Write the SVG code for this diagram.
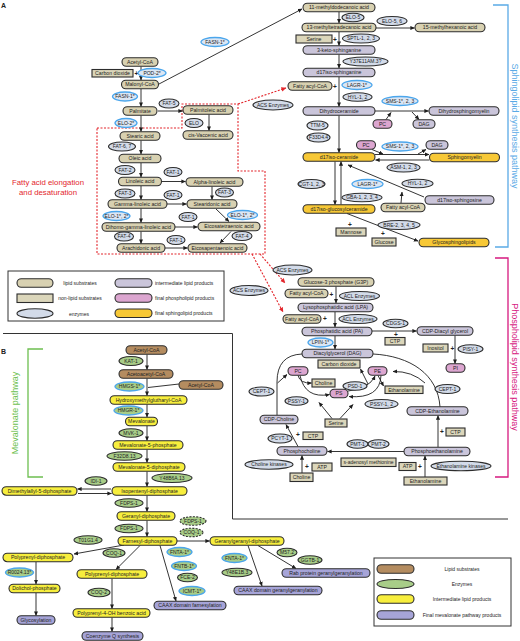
<svg xmlns="http://www.w3.org/2000/svg" width="520" height="641" viewBox="0 0 520 641">
<defs>
<style>
text{font-family:"Liberation Sans",Arial,sans-serif}
.p{stroke:#2d2d2d;stroke-width:1.1}
.lp{fill:#d8d1b1}
.nl{fill:#dbd6ba}
.en{fill:#d3dbe9}
.eb{fill:#dce6f3;stroke:#4ba6ec;stroke-width:1.3}
.il{fill:#cac5da}
.fp{fill:#dca6d0}
.fs{fill:#f7c836}
.bl{fill:#b48c60}
.ge{fill:#a8cd88}
.gb{fill:#a8cd88;stroke:#4ba6ec;stroke-width:1.3}
.gd{stroke-dasharray:2 1.3}
.yi{fill:#f7ee3d}
.pf{fill:#a6a4d8}
.t{font-size:5.2px;text-anchor:middle;fill:#222}
.e{font-size:5px;text-anchor:middle;fill:#222}
.lg{font-size:5px;fill:#222}
.pl{font-size:6.5px;font-weight:bold;text-anchor:middle;fill:#222}
.cn{stroke:#1e1e1e;stroke-width:0.9;fill:none}
.rd{stroke:#e3262c;stroke-width:1.1;stroke-dasharray:2 1.5;fill:none}
</style>
<marker id="ah" viewBox="0 0 6 6" refX="5.5" refY="3" markerWidth="4.5" markerHeight="4.5" orient="auto" markerUnits="userSpaceOnUse"><path d="M0,0.3 L6,3 L0,5.7 z" fill="#1e1e1e"/></marker>
<marker id="ahr" viewBox="0 0 6 6" refX="5.5" refY="3" markerWidth="5" markerHeight="5" orient="auto" markerUnits="userSpaceOnUse"><path d="M0,0.3 L6,3 L0,5.7 z" fill="#e3262c"/></marker>
</defs>
<rect width="520" height="641" fill="#ffffff"/>

<!-- panel labels, brackets, separators -->
<g id="frame">
<text x="1" y="8" font-size="7" font-weight="bold" fill="#222">A</text>
<text x="1" y="354" font-size="7" font-weight="bold" fill="#222">B</text>
<path d="M3,333.5 H232.5 V519 H508" stroke="#333" stroke-width="1" fill="none"/>
<path d="M493,5 H508 V247 H495" stroke="#5aaae6" stroke-width="1.3" fill="none"/>
<text transform="translate(511.5,126) rotate(90)" font-size="9" text-anchor="middle" fill="#5aaae6">Sphingolipid synthesis pathway</text>
<path d="M495,258 H508 V477 H495" stroke="#d6197f" stroke-width="1.3" fill="none"/>
<text transform="translate(511.5,367) rotate(90)" font-size="9" text-anchor="middle" fill="#d6197f">Phospholipid synthesis pathway</text>
<path d="M43,349 H28 V477 H43" stroke="#6dbf50" stroke-width="1.3" fill="none"/>
<text transform="translate(18,413) rotate(-90)" font-size="9" text-anchor="middle" fill="#6dbf50">Mevalonate pathway</text>
<text x="48" y="185" font-size="7.8" text-anchor="middle" fill="#e3262c">Fatty acid elongation</text>
<text x="48" y="194.5" font-size="7.8" text-anchor="middle" fill="#e3262c">and desaturation</text>
</g>

<!-- connectors -->
<g id="connectors">
<path class="rd" d="M97,128 H182 V104 H238 V171 H265 V254 H97 Z"/>
<path class="rd" d="M238,104 L286,88" marker-end="url(#ahr)"/>
<path class="rd" d="M260,254 L285,283" marker-end="url(#ahr)"/>
<path class="rd" d="M252,254 L283,312" marker-end="url(#ahr)"/>

<path class="cn" d="M141,66.5 V80" marker-end="url(#ah)"/>
<path class="cn" d="M159,84 L302,9" marker-end="url(#ah)"/>
<path class="cn" d="M141,89 V106.5" marker-end="url(#ah)"/>
<path class="cn" d="M158,111 H182.5" marker-end="url(#ah)"/>
<path class="cn" d="M209,114.5 V130.5" marker-end="url(#ah)"/>
<path class="cn" d="M141,115.5 V131.5" marker-end="url(#ah)"/>
<path class="cn" d="M141,140.5 V154" marker-end="url(#ah)"/>
<path class="cn" d="M141,163 V177" marker-end="url(#ah)"/>
<path class="cn" d="M162,181.5 H185.5" marker-end="url(#ah)"/>
<path class="cn" d="M212,186.5 V199.5" marker-end="url(#ah)"/>
<path class="cn" d="M141,186 V199.5" marker-end="url(#ah)"/>
<path class="cn" d="M167,204 H186.5" marker-end="url(#ah)"/>
<path class="cn" d="M141,208.5 V222.5" marker-end="url(#ah)"/>
<path class="cn" d="M216,209 L229,221.5" marker-end="url(#ah)"/>
<path class="cn" d="M175,227 H197.5" marker-end="url(#ah)"/>
<path class="cn" d="M141,231.5 V243.5" marker-end="url(#ah)"/>
<path class="cn" d="M231,231.5 L220,243" marker-end="url(#ah)"/>
<path class="cn" d="M165,248 H187.5" marker-end="url(#ah)"/>

<path class="cn" d="M339,12 V23" marker-end="url(#ah)"/>
<path class="cn" d="M376,28 H414.5" marker-end="url(#ah)"/>
<path class="cn" d="M339,32 V45.5" marker-end="url(#ah)"/>
<path class="cn" d="M339,54.5 V68" marker-end="url(#ah)"/>
<path class="cn" d="M339,77 V106.5" marker-end="url(#ah)"/>
<path class="cn" d="M375,111 H428.5" marker-end="url(#ah)"/>
<path class="cn" d="M386,119.5 L391,112.5" marker-end="url(#ah)"/>
<path class="cn" d="M412,112 L419,119.5" marker-end="url(#ah)"/>
<path class="cn" d="M339,115.5 V152.5" marker-end="url(#ah)"/>
<path class="cn" d="M375,154.5 H429" marker-end="url(#ah)"/>
<path class="cn" d="M429.5,160 H375.5" marker-end="url(#ah)"/>
<path class="cn" d="M372,149.5 L383,154" marker-end="url(#ah)"/>
<path class="cn" d="M418,154 L426,149.5" marker-end="url(#ah)"/>
<path class="cn" d="M424,197 L348,165" marker-end="url(#ah)"/>
<path class="cn" d="M401,203 L402,192" marker-end="url(#ah)"/>
<path class="cn" d="M335,161.5 V204.5" marker-end="url(#ah)"/>
<path class="cn" d="M341,204.5 V161.5" marker-end="url(#ah)"/>
<path class="cn" d="M347,213.5 L418,241" marker-end="url(#ah)"/>

<path class="cn" d="M336,286.5 V303" marker-end="url(#ah)"/>
<path class="cn" d="M335,312 V327" marker-end="url(#ah)"/>
<path class="cn" d="M372,331 H416.5" marker-end="url(#ah)"/>
<path class="cn" d="M455,335.5 V363.5" marker-end="url(#ah)"/>
<path class="cn" d="M335,336 V349" marker-end="url(#ah)"/>
<path class="cn" d="M277,415 V382 Q277,355 302,354"/>
<path class="cn" d="M277.5,383 L287,374.5" marker-end="url(#ah)"/>
<path class="cn" d="M440,407 C438,374 410,356 373,354"/>
<path class="cn" d="M425,383 Q412,371 393,371.5" marker-end="url(#ah)"/>
<path class="cn" d="M298,375.5 Q300,383.5 311.5,383" marker-end="url(#ah)"/>
<path class="cn" d="M378,375.5 L383.5,386" marker-end="url(#ah)"/>
<path class="cn" d="M300,375.5 Q305,399 329.5,394.5" marker-end="url(#ah)"/>
<path class="cn" d="M348,391 Q369,389 375,376" marker-end="url(#ah)"/>
<path class="cn" d="M381,375.5 Q380,399 349,396.5" marker-end="url(#ah)"/>
<path class="cn" d="M368,384 L360.5,369" marker-end="url(#ah)"/>
<path class="cn" d="M332,418.5 L319,402.5" marker-end="url(#ah)"/>
<path class="cn" d="M340,418.5 L353,404.5" marker-end="url(#ah)"/>
<path class="cn" d="M298,446.5 L286,424.5" marker-end="url(#ah)"/>
<path class="cn" d="M438,447 V415.5" marker-end="url(#ah)"/>
<path class="cn" d="M404,451.5 H327.5" marker-end="url(#ah)"/>
<path class="cn" d="M302,473 V455.5" marker-end="url(#ah)"/>
<path class="cn" d="M425,477 V456" marker-end="url(#ah)"/>

<path class="cn" d="M147,354.5 V369.5" marker-end="url(#ah)"/>
<path class="cn" d="M147,378.5 V395.5" marker-end="url(#ah)"/>
<path class="cn" d="M179,384 L148,387.5"/>
<path class="cn" d="M147,404.5 V417" marker-end="url(#ah)"/>
<path class="cn" d="M147,426 V440.5" marker-end="url(#ah)"/>
<path class="cn" d="M147,449.5 V462.5" marker-end="url(#ah)"/>
<path class="cn" d="M147,471.5 V486.5" marker-end="url(#ah)"/>
<path class="cn" d="M111,489 H77.5" marker-end="url(#ah)"/>
<path class="cn" d="M78,493.5 H111.5" marker-end="url(#ah)"/>
<path class="cn" d="M147,495.5 V511.5" marker-end="url(#ah)"/>
<path class="cn" d="M147,520.5 V536.5" marker-end="url(#ah)"/>
<path class="cn" d="M177,541 H209.5" marker-end="url(#ah)"/>
<path class="cn" d="M124,545 L74,554" marker-end="url(#ah)"/>
<path class="cn" d="M140,545.5 L116,569.5" marker-end="url(#ah)"/>
<path class="cn" d="M160,545.5 L176,601" marker-end="url(#ah)"/>
<path class="cn" d="M36,562 V584" marker-end="url(#ah)"/>
<path class="cn" d="M36,593 V615.5" marker-end="url(#ah)"/>
<path class="cn" d="M112,578.5 V608.5" marker-end="url(#ah)"/>
<path class="cn" d="M112,617.5 V631.5" marker-end="url(#ah)"/>
<path class="cn" d="M258,545.5 L296,568.5" marker-end="url(#ah)"/>
<path class="cn" d="M248,545.5 L262,586" marker-end="url(#ah)"/>
</g>

<!-- plus signs -->
<g id="plus-signs" font-size="6.5" font-weight="bold" text-anchor="middle" fill="#222">
<text x="136.5" y="76">+</text>
<text x="335" y="41.5">+</text>
<text x="335" y="88.5">+</text>
<text x="350" y="226.5">+</text>
<text x="383" y="236">+</text>
<text x="331.5" y="296.5">+</text>
<text x="325" y="321">+</text>
<text x="396" y="337">+</text>
<text x="452.5" y="350.5">+</text>
<text x="298" y="436.5">+</text>
<text x="442" y="434">+</text>
<text x="307" y="469">+</text>
<text x="420" y="468.5">+</text>
</g>

<!-- Panel A fatty acid nodes -->
<g id="n-acetylcoa-a"><rect class="p lp" x="122" y="57.75" width="36" height="8.5" rx="4.25"/><text class="t" x="140" y="63.8">Acetyl-CoA</text></g>
<g id="n-co2-a"><rect class="p nl" x="92" y="69.5" width="41" height="7.5"/><text class="t" x="112.5" y="75.1">Carbon dioxide</text></g>
<g id="e-pod2"><ellipse class="p eb" cx="152" cy="73" rx="14" ry="4.5"/><text class="e" x="152" y="74.8">POD-2*</text></g>
<g id="n-malonyl"><rect class="p lp" x="121.5" y="80.25" width="37" height="8.5" rx="4.25"/><text class="t" x="140" y="86.3">Malonyl-CoA</text></g>
<g id="e-fasn1-a"><ellipse class="p eb" cx="215" cy="42" rx="14" ry="4.5"/><text class="e" x="215" y="43.8">FASN-1*</text></g>
<g id="e-fasn1-b"><ellipse class="p eb" cx="125" cy="96.5" rx="12.5" ry="4.5"/><text class="e" x="125" y="98.3">FASN-1*</text></g>
<g id="n-palmitate"><rect class="p lp" x="123" y="106.75" width="34" height="8.5" rx="4.25"/><text class="t" x="140" y="112.8">Palmitate</text></g>
<g id="e-fat5"><ellipse class="p en" cx="169" cy="103.5" rx="10" ry="4.5"/><text class="e" x="169" y="105.3">FAT-5</text></g>
<g id="n-palmitoleic"><rect class="p lp" x="183" y="105.75" width="50" height="8.5" rx="4.25"/><text class="t" x="208" y="111.8">Palmitoleic acid</text></g>
<g id="e-elo"><ellipse class="p en" cx="194" cy="123" rx="9" ry="4.5"/><text class="e" x="194" y="124.8">ELO</text></g>
<g id="n-vaccenic"><rect class="p lp" x="183" y="130.75" width="50" height="8.5" rx="4.25"/><text class="t" x="208" y="136.8">cis-Vaccenic acid</text></g>
<g id="e-elo2"><ellipse class="p eb" cx="126" cy="123" rx="11" ry="4.5"/><text class="e" x="126" y="124.8">ELO-2*</text></g>
<g id="n-stearic"><rect class="p lp" x="120" y="131.75" width="40" height="8.5" rx="4.25"/><text class="t" x="140" y="137.8">Stearic acid</text></g>
<g id="e-fat67"><ellipse class="p en" cx="122" cy="146.5" rx="13.5" ry="4.5"/><text class="e" x="122" y="148.3">FAT-6, 7</text></g>
<g id="n-oleic"><rect class="p lp" x="119" y="154.25" width="42" height="8.5" rx="4.25"/><text class="t" x="140" y="160.3">Oleic acid</text></g>
<g id="e-fat2"><ellipse class="p en" cx="125" cy="170" rx="10" ry="4.5"/><text class="e" x="125" y="171.8">FAT-2</text></g>
<g id="n-linoleic"><rect class="p lp" x="118.5" y="177.25" width="43" height="8.5" rx="4.25"/><text class="t" x="140" y="183.3">Linoleic acid</text></g>
<g id="e-fat1-1"><ellipse class="p en" cx="173" cy="172" rx="9" ry="4.5"/><text class="e" x="173" y="173.8">FAT-1</text></g>
<g id="n-alphalin"><rect class="p lp" x="186" y="177.75" width="57" height="8.5" rx="4.25"/><text class="t" x="214.5" y="183.8">Alpha-linoleic acid</text></g>
<g id="e-fat3-r"><ellipse class="p en" cx="224.5" cy="192.5" rx="9" ry="4.5"/><text class="e" x="224.5" y="194.3">FAT-3</text></g>
<g id="e-fat1-2"><ellipse class="p en" cx="173" cy="195" rx="9" ry="4.5"/><text class="e" x="173" y="196.8">FAT-1</text></g>
<g id="n-stearidonic"><rect class="p lp" x="187" y="199.75" width="50" height="8.5" rx="4.25"/><text class="t" x="212" y="205.8">Stearidonic acid</text></g>
<g id="e-fat3-l"><ellipse class="p en" cx="125" cy="193.5" rx="10" ry="4.5"/><text class="e" x="125" y="195.3">FAT-3</text></g>
<g id="n-gamma"><rect class="p lp" x="108" y="199.75" width="59" height="8.5" rx="4.25"/><text class="t" x="137.5" y="205.8">Gamma-linoleic acid</text></g>
<g id="e-elo12-l"><ellipse class="p eb" cx="116.5" cy="216" rx="13.5" ry="4.5"/><text class="e" x="116.5" y="217.8">ELO-1*, 2*</text></g>
<g id="e-elo12-r"><ellipse class="p eb" cx="242.5" cy="215" rx="15" ry="4.5"/><text class="e" x="242.5" y="216.8">ELO-1*, 2*</text></g>
<g id="n-dihomo"><rect class="p lp" x="102" y="222.75" width="73" height="8.5" rx="4.25"/><text class="t" x="138.5" y="228.8">Dihomo-gamma-linoleic acid</text></g>
<g id="e-fat1-3"><ellipse class="p en" cx="188" cy="217" rx="9" ry="4.5"/><text class="e" x="188" y="218.8">FAT-1</text></g>
<g id="n-eicosatet"><rect class="p lp" x="198" y="222.25" width="62" height="8.5" rx="4.25"/><text class="t" x="229" y="228.3">Eicosatetraenoic acid</text></g>
<g id="e-fat4-l"><ellipse class="p en" cx="124" cy="236.5" rx="9.5" ry="4.5"/><text class="e" x="124" y="238.3">FAT-4</text></g>
<g id="n-arachidonic"><rect class="p lp" x="117" y="243.75" width="48" height="8.5" rx="4.25"/><text class="t" x="141" y="249.8">Arachidonic acid</text></g>
<g id="e-fat1-4"><ellipse class="p en" cx="176" cy="240" rx="9" ry="4.5"/><text class="e" x="176" y="241.8">FAT-1</text></g>
<g id="e-fat4-r"><ellipse class="p en" cx="242" cy="236" rx="10" ry="4.5"/><text class="e" x="242" y="237.8">FAT-4</text></g>
<g id="n-eicosapent"><rect class="p lp" x="188" y="243.75" width="59" height="8.5" rx="4.25"/><text class="t" x="217.5" y="249.8">Eicosapentaenoic acid</text></g>
<g id="e-acs1"><ellipse class="p en" cx="273" cy="105" rx="20" ry="5"/><text class="e" x="273" y="106.8">ACS Enzymes</text></g>

<!-- Sphingolipid nodes -->
<g id="n-methyldodec"><rect class="p lp" x="303" y="3.25" width="72" height="8.5" rx="4.25"/><text class="t" x="339" y="9.3">11-methyldodecanoic acid</text></g>
<g id="e-elo5"><ellipse class="p en" cx="353" cy="17.5" rx="11" ry="4.3"/><text class="e" x="353" y="19.3">ELO-5</text></g>
<g id="n-methyltetra"><rect class="p lp" x="302" y="23.25" width="74" height="8.5" rx="4.25"/><text class="t" x="339" y="29.3">13-methyltetradecanoic acid</text></g>
<g id="e-elo56"><ellipse class="p en" cx="392" cy="21" rx="15" ry="4.5"/><text class="e" x="392" y="22.8">ELO-5, 6</text></g>
<g id="n-methylhex"><rect class="p lp" x="415" y="23.25" width="70" height="8.5" rx="4.25"/><text class="t" x="450" y="29.3">15-methylhexanoic acid</text></g>
<g id="n-serine-s"><rect class="p nl" x="296" y="35" width="36" height="8"/><text class="t" x="314" y="40.8">Serine</text></g>
<g id="e-sptl"><ellipse class="p en" cx="361" cy="38.5" rx="18.5" ry="4.5"/><text class="e" x="361" y="40.3">SPTL-1, 2, 3</text></g>
<g id="n-ketosph"><rect class="p il" x="303" y="45.75" width="72" height="8.5" rx="4.25"/><text class="t" x="339" y="51.8">3-keto-sphinganine</text></g>
<g id="e-y37"><ellipse class="p en" cx="365.5" cy="61.5" rx="22.5" ry="4.5"/><text class="e" x="365.5" y="63.3">Y37E11AM.3?</text></g>
<g id="n-d17sphinganine"><rect class="p il" x="303" y="68.25" width="72" height="8.5" rx="4.25"/><text class="t" x="339" y="74.3">d17iso-sphinganine</text></g>
<g id="n-facoa-s1"><rect class="p lp" x="288" y="81.75" width="44" height="8.5" rx="4.25"/><text class="t" x="310" y="87.8">Fatty acyl-CoA</text></g>
<g id="e-lagr1-a"><ellipse class="p eb" cx="357" cy="85" rx="15" ry="4.5"/><text class="e" x="357" y="86.8">LAGR-1*</text></g>
<g id="e-hyl12-a"><ellipse class="p en" cx="357.5" cy="97" rx="14.5" ry="4.3"/><text class="e" x="357.5" y="98.8">HYL-1, 2</text></g>
<g id="n-dihydrocer"><rect class="p il" x="303" y="106.75" width="72" height="8.5" rx="4.25"/><text class="t" x="339" y="112.8">Dihydroceramide</text></g>
<g id="e-sms-a"><ellipse class="p eb" cx="400" cy="101" rx="18" ry="4.5"/><text class="e" x="400" y="102.8">SMS-1*, 2, 3</text></g>
<g id="n-pc-s1"><rect class="p fp" x="373" y="119.75" width="19" height="8.5" rx="4.25"/><text class="t" x="382.5" y="125.8">PC</text></g>
<g id="n-dag-s1"><rect class="p il" x="413" y="119.75" width="22" height="8.5" rx="4.25"/><text class="t" x="424" y="125.8">DAG</text></g>
<g id="n-dhsm"><rect class="p il" x="429" y="106.75" width="70" height="8.5" rx="4.25"/><text class="t" x="464" y="112.8">Dihydrosphingomyelin</text></g>
<g id="e-ttm5"><ellipse class="p en" cx="317.5" cy="125.5" rx="10.5" ry="4.5"/><text class="e" x="317.5" y="127.3">TTM-5</text></g>
<g id="e-f33d4"><ellipse class="p en" cx="318.5" cy="137.5" rx="11.5" ry="4.5"/><text class="e" x="318.5" y="139.3">F33D4.4</text></g>
<g id="n-d17cer"><rect class="p fs" x="303" y="152.75" width="72" height="8.5" rx="4.25"/><text class="t" x="339" y="158.8">d17iso-ceramide</text></g>
<g id="n-pc-s2"><rect class="p fp" x="356.5" y="140.75" width="19" height="8.5" rx="4.25"/><text class="t" x="366" y="146.8">PC</text></g>
<g id="e-sms-b"><ellipse class="p eb" cx="400" cy="146.5" rx="18" ry="4.5"/><text class="e" x="400" y="148.3">SMS-1*, 2, 3</text></g>
<g id="n-dag-s2"><rect class="p il" x="426" y="140.75" width="22" height="8.5" rx="4.25"/><text class="t" x="437" y="146.8">DAG</text></g>
<g id="n-sphingomyelin"><rect class="p fs" x="429.5" y="153.25" width="70" height="8.5" rx="4.25"/><text class="t" x="464.5" y="159.3">Sphingomyelin</text></g>
<g id="e-asm"><ellipse class="p en" cx="403.5" cy="167.5" rx="16.5" ry="4.5"/><text class="e" x="403.5" y="169.3">ASM-1, 2, 3</text></g>
<g id="e-lagr1-b"><ellipse class="p eb" cx="367.5" cy="184" rx="15.5" ry="4.5"/><text class="e" x="367.5" y="185.8">LAGR-1*</text></g>
<g id="e-hyl12-b"><ellipse class="p en" cx="417.5" cy="183.5" rx="15.5" ry="4.3"/><text class="e" x="417.5" y="185.3">HYL-1, 2</text></g>
<g id="e-gba"><ellipse class="p en" cx="362" cy="197.5" rx="20" ry="4.3"/><text class="e" x="362" y="199.3">GBA-1, 2, 3, 4</text></g>
<g id="n-facoa-s2"><rect class="p lp" x="381" y="203.25" width="44" height="8.5" rx="4.25"/><text class="t" x="403" y="209.3">Fatty acyl-CoA</text></g>
<g id="n-d17sphingosine"><rect class="p il" x="425" y="195.75" width="69" height="8.5" rx="4.25"/><text class="t" x="459.5" y="201.8">d17iso-sphingosine</text></g>
<g id="e-cgt"><ellipse class="p en" cx="311.5" cy="184" rx="13.5" ry="4.5"/><text class="e" x="311.5" y="185.8">CGT-1, 2, 3</text></g>
<g id="n-glucosylcer"><rect class="p fs" x="303" y="204.75" width="72" height="8.5" rx="4.25"/><text class="t" x="339" y="210.8">d17iso-glucosylceramide</text></g>
<g id="n-mannose"><rect class="p nl" x="336" y="228" width="30" height="8"/><text class="t" x="351" y="233.8">Mannose</text></g>
<g id="n-glucose"><rect class="p nl" x="372" y="238" width="24" height="8"/><text class="t" x="384" y="243.8">Glucose</text></g>
<g id="e-bre"><ellipse class="p en" cx="399" cy="225" rx="21" ry="4.5"/><text class="e" x="399" y="226.8">BRE-2, 3, 4, 5</text></g>
<g id="n-glycosph"><rect class="p fs" x="419" y="238.25" width="70" height="8.5" rx="4.25"/><text class="t" x="454" y="244.3">Glycosphingolipids</text></g>

<!-- Legend A -->
<g id="legend-a">
<rect x="8" y="271" width="216" height="50" fill="#fff" stroke="#333" stroke-width="1"/>
<rect class="p lp" x="17" y="278.75" width="36" height="8.5" rx="4.25"/>
<text class="lg" x="80" y="285" text-anchor="middle">lipid substrates</text>
<rect class="p nl" x="17" y="294" width="36" height="8.5"/>
<text class="lg" x="80" y="300" text-anchor="middle">non-lipid substrates</text>
<ellipse class="p en" cx="35" cy="313.5" rx="18" ry="4.8"/>
<text class="lg" x="79" y="315.5" text-anchor="middle">enzymes</text>
<rect class="p il" x="115" y="278.75" width="37" height="8.5" rx="4.25"/>
<text class="lg" x="155" y="285">intermediate lipid products</text>
<rect class="p fp" x="115" y="293.75" width="37" height="8.5" rx="4.25"/>
<text class="lg" x="155" y="300">final phospholipid products</text>
<rect class="p fs" x="115" y="309" width="37" height="8.5" rx="4.25"/>
<text class="lg" x="155" y="315.3">final sphingolipid products</text>
</g>

<!-- Phospholipid nodes -->
<g id="e-acs2"><ellipse class="p en" cx="292.5" cy="270" rx="19.5" ry="5"/><text class="e" x="292.5" y="271.8">ACS Enzymes</text></g>
<g id="e-acs3"><ellipse class="p en" cx="249" cy="290.5" rx="19" ry="5"/><text class="e" x="249" y="292.3">ACS Enzymes</text></g>
<g id="n-g3p"><rect class="p lp" x="298" y="277.75" width="76" height="8.5" rx="4.25"/><text class="t" x="336" y="283.8">Glucose-3 phosphate (G3P)</text></g>
<g id="n-facoa-p1"><rect class="p lp" x="285" y="289.25" width="43" height="8.5" rx="4.25"/><text class="t" x="306.5" y="295.3">Fatty acyl-CoA</text></g>
<g id="e-acl1"><ellipse class="p en" cx="359.5" cy="296" rx="20" ry="4.5"/><text class="e" x="359.5" y="297.8">ACL Enzymes</text></g>
<g id="n-lpa"><rect class="p il" x="298" y="303.25" width="75" height="8.5" rx="4.25"/><text class="t" x="335.5" y="309.3">Lysophosphatidic acid (LPA)</text></g>
<g id="n-facoa-p2"><rect class="p lp" x="283" y="314.75" width="38" height="8.5" rx="4.25"/><text class="t" x="302" y="320.8">Fatty acyl-CoA</text></g>
<g id="e-acl2"><ellipse class="p en" cx="358" cy="319" rx="19" ry="4.5"/><text class="e" x="358" y="320.8">ACL Enzymes</text></g>
<g id="n-pa"><rect class="p il" x="302" y="327.25" width="70" height="8.5" rx="4.25"/><text class="t" x="337" y="333.3">Phosphatidic acid (PA)</text></g>
<g id="e-cdgs"><ellipse class="p en" cx="395.5" cy="323.5" rx="12.5" ry="4.3"/><text class="e" x="395.5" y="325.3">CDGS-1</text></g>
<g id="n-ctp-p1"><rect class="p nl" x="385" y="337.5" width="20" height="7.5"/><text class="t" x="395" y="343.1">CTP</text></g>
<g id="n-cdpdag"><rect class="p il" x="417" y="326.75" width="56" height="8.5" rx="4.25"/><text class="t" x="445" y="332.8">CDP-Diacyl glycerol</text></g>
<g id="e-lpin"><ellipse class="p eb" cx="320.5" cy="342.5" rx="12.5" ry="4.5"/><text class="e" x="320.5" y="344.3">LPIN-1*</text></g>
<g id="n-dag-p"><rect class="p il" x="302" y="349.25" width="71" height="8.5" rx="4.25"/><text class="t" x="337.5" y="355.3">Diacylglycerol (DAG)</text></g>
<g id="n-co2-p"><rect class="p nl" x="318" y="360" width="42" height="8"/><text class="t" x="339" y="365.8">Carbon dioxide</text></g>
<g id="n-inositol"><rect class="p nl" x="423" y="344" width="25" height="8"/><text class="t" x="435.5" y="349.8">Inositol</text></g>
<g id="e-pisy1"><ellipse class="p en" cx="470.5" cy="349" rx="12.5" ry="4.3"/><text class="e" x="470.5" y="350.8">PISY-1</text></g>
<g id="n-pi"><rect class="p fp" x="446" y="363.75" width="19" height="8.5" rx="4.25"/><text class="t" x="455.5" y="369.8">PI</text></g>
<g id="n-pc-p"><rect class="p fp" x="288" y="366.75" width="20" height="8.5" rx="4.25"/><text class="t" x="298" y="372.8">PC</text></g>
<g id="n-pe-p"><rect class="p fp" x="368" y="366.75" width="19" height="8.5" rx="4.25"/><text class="t" x="377.5" y="372.8">PE</text></g>
<g id="n-choline-p"><rect class="p nl" x="312" y="379" width="23" height="8"/><text class="t" x="323.5" y="384.8">Choline</text></g>
<g id="n-ps"><rect class="p fp" x="330" y="389.25" width="18" height="8.5" rx="4.25"/><text class="t" x="339" y="395.3">PS</text></g>
<g id="n-ethanolamine-p"><rect class="p nl" x="385" y="386" width="38" height="7.5"/><text class="t" x="404" y="391.6">Ethanolamine</text></g>
<g id="e-psd1"><ellipse class="p en" cx="355" cy="386" rx="12" ry="4.3"/><text class="e" x="355" y="387.8">PSD-1</text></g>
<g id="e-pssy12"><ellipse class="p en" cx="381.5" cy="404" rx="16.5" ry="4.5"/><text class="e" x="381.5" y="405.8">PSSY-1, 2</text></g>
<g id="e-pssy1"><ellipse class="p en" cx="296.5" cy="401" rx="11.5" ry="4.3"/><text class="e" x="296.5" y="402.8">PSSY-1</text></g>
<g id="e-cept1-l"><ellipse class="p en" cx="261.5" cy="391.5" rx="12.5" ry="4.5"/><text class="e" x="261.5" y="393.3">CEPT-1</text></g>
<g id="e-cept1-r"><ellipse class="p en" cx="447.5" cy="389" rx="12.5" ry="4.5"/><text class="e" x="447.5" y="390.8">CEPT-1</text></g>
<g id="n-serine-p"><rect class="p nl" x="325" y="419" width="22" height="8"/><text class="t" x="336" y="424.8">Serine</text></g>
<g id="n-cdpcholine"><rect class="p il" x="260" y="415.25" width="38" height="8.5" rx="4.25"/><text class="t" x="279" y="421.3">CDP-Choline</text></g>
<g id="e-pcyt1"><ellipse class="p en" cx="280" cy="438.5" rx="12" ry="4.5"/><text class="e" x="280" y="440.3">PCYT-1</text></g>
<g id="n-ctp-p2"><rect class="p nl" x="303" y="432" width="20" height="7.5"/><text class="t" x="313" y="437.6">CTP</text></g>
<g id="e-pmt1"><ellipse class="p en" cx="357.5" cy="444" rx="10.5" ry="4.3"/><text class="e" x="357.5" y="445.8">PMT-1</text></g>
<g id="e-pmt2"><ellipse class="p en" cx="378.5" cy="444" rx="10.5" ry="4.3"/><text class="e" x="378.5" y="445.8">PMT-2</text></g>
<g id="n-phosphocholine"><rect class="p il" x="277" y="446.75" width="50" height="8.5" rx="4.25"/><text class="t" x="302" y="452.8">Phosphocholine</text></g>
<g id="n-sam"><rect class="p nl" x="341" y="458" width="55" height="8.5"/><text class="e" x="368.5" y="464">s-adenosyl methionine</text></g>
<g id="n-phosphoeth"><rect class="p il" x="404" y="447.25" width="66" height="8.5" rx="4.25"/><text class="t" x="437" y="453.3">Phosphoethanolamine</text></g>
<g id="n-cdpeth"><rect class="p il" x="407" y="406.75" width="61" height="8.5" rx="4.25"/><text class="t" x="437.5" y="412.8">CDP-Ethanolamine</text></g>
<g id="n-ctp-p3"><rect class="p nl" x="446" y="428" width="19" height="8"/><text class="t" x="455.5" y="433.8">CTP</text></g>
<g id="e-cholinekin"><ellipse class="p en" cx="269" cy="464.5" rx="24" ry="4.8"/><text class="e" x="269" y="466.3">Choline kinases</text></g>
<g id="n-atp-c"><rect class="p nl" x="312" y="463" width="20" height="8"/><text class="t" x="322" y="468.8">ATP</text></g>
<g id="n-choline-b"><rect class="p nl" x="290" y="473" width="23" height="8.5"/><text class="t" x="301.5" y="479">Choline</text></g>
<g id="n-atp-e"><rect class="p nl" x="399" y="462.5" width="17" height="8"/><text class="t" x="407.5" y="468.3">ATP</text></g>
<g id="e-ethkin"><ellipse class="p en" cx="461" cy="466" rx="30" ry="4.8"/><text class="e" x="461" y="467.8">Ethanolamine kinases</text></g>
<g id="n-ethanolamine-b"><rect class="p nl" x="404" y="477" width="43" height="8"/><text class="t" x="425.5" y="482.8">Ethanolamine</text></g>

<!-- Panel B mevalonate nodes -->
<g id="n-acetylcoa-b1"><rect class="p bl" x="126" y="345.75" width="41" height="8.5" rx="4.25"/><text class="t" x="146.5" y="351.8">Acetyl-CoA</text></g>
<g id="e-kat1"><ellipse class="p ge" cx="131" cy="361" rx="12" ry="4.5"/><text class="e" x="131" y="362.8">KAT-1</text></g>
<g id="n-acetoacetyl"><rect class="p bl" x="119" y="369.75" width="54" height="8.5" rx="4.25"/><text class="t" x="146" y="375.8">Acetoacetyl-CoA</text></g>
<g id="n-acetylcoa-b2"><rect class="p bl" x="179" y="380.75" width="44" height="8.5" rx="4.25"/><text class="t" x="201" y="386.8">Acetyl-CoA</text></g>
<g id="e-hmgs1"><ellipse class="p gb" cx="129.5" cy="386.5" rx="14.5" ry="4.5"/><text class="e" x="129.5" y="388.3">HMGS-1*</text></g>
<g id="n-hmgcoa"><rect class="p yi" x="110" y="395.75" width="77" height="8.5" rx="4.25"/><text class="t" x="148.5" y="401.8">Hydroxymethylglutharyl-CoA</text></g>
<g id="e-hmgr1"><ellipse class="p gb" cx="128.5" cy="410.5" rx="14.5" ry="4.5"/><text class="e" x="128.5" y="412.3">HMGR-1*</text></g>
<g id="n-mevalonate"><rect class="p yi" x="125.5" y="417.25" width="32" height="8.5" rx="4.25"/><text class="t" x="141.5" y="423.3">Mevalonate</text></g>
<g id="e-mvk1"><ellipse class="p ge" cx="131" cy="433" rx="12" ry="4.3"/><text class="e" x="131" y="434.8">MVK-1</text></g>
<g id="n-mev5p"><rect class="p yi" x="113" y="440.75" width="70" height="8.5" rx="4.25"/><text class="t" x="148" y="446.8">Mevalonate-5-phosphate</text></g>
<g id="e-f32d8"><ellipse class="p ge" cx="124.5" cy="456" rx="17.5" ry="4.3"/><text class="e" x="124.5" y="457.8">F32D8.13</text></g>
<g id="n-mev5pp"><rect class="p yi" x="113" y="462.75" width="72" height="8.5" rx="4.25"/><text class="t" x="149" y="468.8">Mevalonate-5-diphosphate</text></g>
<g id="e-y48b6a"><ellipse class="p ge" cx="172" cy="478" rx="20" ry="4.5"/><text class="e" x="172" y="479.8">Y48B6A.13</text></g>
<g id="n-ipp"><rect class="p yi" x="112" y="486.75" width="75" height="8.5" rx="4.25"/><text class="t" x="149.5" y="492.8">Isopentenyl-diphosphate</text></g>
<g id="e-idi1"><ellipse class="p ge" cx="96" cy="481" rx="11" ry="4.3"/><text class="e" x="96" y="482.8">IDI-1</text></g>
<g id="n-dmapp"><rect class="p yi" x="2" y="486.75" width="75" height="8.5" rx="4.25"/><text class="t" x="39.5" y="492.8">Dimethylallyl-5-diphosphate</text></g>
<g id="e-fdps1-a"><ellipse class="p ge" cx="129" cy="503" rx="14" ry="4.3"/><text class="e" x="129" y="504.8">FDPS-1</text></g>
<g id="n-geranyl"><rect class="p yi" x="117" y="511.75" width="58" height="8.5" rx="4.25"/><text class="t" x="146" y="517.8">Geranyl-diphosphate</text></g>
<g id="e-fdps1-b"><ellipse class="p ge" cx="129" cy="528.5" rx="14" ry="4.3"/><text class="e" x="129" y="530.3">FDPS-1</text></g>
<g id="n-farnesyl"><rect class="p yi" x="118" y="536.75" width="59" height="8.5" rx="4.25"/><text class="t" x="147.5" y="542.8">Farnesyl-diphosphate</text></g>
<g id="e-fdps1-d"><ellipse class="p ge gd" cx="193" cy="521" rx="13" ry="4.3"/><text class="e" x="193" y="522.8">FDPS-1</text></g>
<g id="e-coq1-d"><ellipse class="p ge gd" cx="191.5" cy="532.5" rx="11.5" ry="4.3"/><text class="e" x="191.5" y="534.3">COQ-1</text></g>
<g id="n-ggpp"><rect class="p yi" x="210" y="536.75" width="74" height="8.5" rx="4.25"/><text class="t" x="247" y="542.8">Geranylgeranyl-diphosphate</text></g>
<g id="e-m572"><ellipse class="p ge" cx="287" cy="552.5" rx="10" ry="4.3"/><text class="e" x="287" y="554.3">M57.2</text></g>
<g id="e-ggtb1"><ellipse class="p ge" cx="310" cy="560" rx="12" ry="4.3"/><text class="e" x="310" y="561.8">GGTB-1</text></g>
<g id="n-rab"><rect class="p pf" x="282" y="568.75" width="88" height="8.5" rx="4.25"/><text class="t" x="326" y="574.8">Rab protein geranylgeranylation</text></g>
<g id="e-fnta1-b"><ellipse class="p gb" cx="234.5" cy="558" rx="12.5" ry="4.5"/><text class="e" x="234.5" y="559.8">FNTA-1*</text></g>
<g id="e-y48e1b"><ellipse class="p ge" cx="237" cy="572.5" rx="15" ry="4.3"/><text class="e" x="237" y="574.3">Y48E1B.3</text></g>
<g id="n-caax-gg"><rect class="p pf" x="234" y="586.25" width="88" height="8.5" rx="4.25"/><text class="t" x="278" y="592.3">CAAX domain geranylgeranylation</text></g>
<g id="e-t01g1"><ellipse class="p ge" cx="88" cy="540" rx="14" ry="4.3"/><text class="e" x="88" y="541.8">T01G1.4</text></g>
<g id="n-polypren-l"><rect class="p yi" x="3" y="553.25" width="70" height="8.5" rx="4.25"/><text class="t" x="38" y="559.3">Polyprenyl-diphosphate</text></g>
<g id="e-r0024"><ellipse class="p gb" cx="19.5" cy="572.5" rx="14" ry="4.5"/><text class="e" x="19.5" y="574.3">R0024.13*</text></g>
<g id="n-dolichol"><rect class="p yi" x="9" y="584.25" width="51" height="8.5" rx="4.25"/><text class="t" x="34.5" y="590.3">Dolichol-phosphate</text></g>
<g id="n-glycosylation"><rect class="p pf" x="17" y="615.75" width="38" height="8.5" rx="4.25"/><text class="t" x="36" y="621.8">Glycosylation</text></g>
<g id="e-coq1"><ellipse class="p ge" cx="114" cy="553" rx="11" ry="4.3"/><text class="e" x="114" y="554.8">COQ-1</text></g>
<g id="n-polypren-m"><rect class="p yi" x="77" y="569.75" width="70" height="8.5" rx="4.25"/><text class="t" x="112" y="575.8">Polyprenyl-diphosphate</text></g>
<g id="e-coq2"><ellipse class="p ge" cx="99" cy="592.5" rx="11" ry="4.3"/><text class="e" x="99" y="594.3">COQ-2</text></g>
<g id="n-poh"><rect class="p yi" x="73" y="608.75" width="77" height="8.5" rx="4.25"/><text class="t" x="111.5" y="614.8">Polyprenyl-4-OH benzoic acid</text></g>
<g id="n-coqsyn"><rect class="p pf" x="82" y="631.75" width="61" height="8.5" rx="4.25"/><text class="t" x="112.5" y="637.8">Coenzyme Q synthesis</text></g>
<g id="e-fnta1-a"><ellipse class="p gb" cx="179.5" cy="552" rx="12.5" ry="4.5"/><text class="e" x="179.5" y="553.8">FNTA-1*</text></g>
<g id="e-fntb1"><ellipse class="p gb" cx="184" cy="566" rx="12.5" ry="4.5"/><text class="e" x="184" y="567.8">FNTB-1*</text></g>
<g id="e-fce2"><ellipse class="p ge" cx="187.5" cy="577.5" rx="10" ry="4.3"/><text class="e" x="187.5" y="579.3">FCE-2</text></g>
<g id="e-icmt1"><ellipse class="p gb" cx="192" cy="591" rx="13" ry="4.5"/><text class="e" x="192" y="592.8">ICMT-1*</text></g>
<g id="n-caax-f"><rect class="p pf" x="154" y="601.25" width="72" height="8.5" rx="4.25"/><text class="t" x="190" y="607.3">CAAX domain farnesylation</text></g>

<!-- Legend B -->
<g id="legend-b">
<rect x="374" y="558" width="137" height="68" fill="#fff" stroke="#333" stroke-width="1"/>
<rect class="p bl" x="377" y="564.75" width="37" height="8.5" rx="4.25"/>
<text class="lg" x="462" y="570.8" text-anchor="middle">Lipid substrates</text>
<ellipse class="p ge" cx="395.5" cy="584" rx="18.5" ry="4.5"/>
<text class="lg" x="462" y="585.8" text-anchor="middle">Enzymes</text>
<rect class="p yi" x="377" y="594.75" width="37" height="8.5" rx="4.25"/>
<text class="lg" x="462" y="600.8" text-anchor="middle">Intermediate lipid products</text>
<rect class="p pf" x="377" y="610.75" width="37" height="8.5" rx="4.25"/>
<text class="lg" x="462" y="616.8" text-anchor="middle">Final mevalonate pathway products</text>
</g>
</svg>
